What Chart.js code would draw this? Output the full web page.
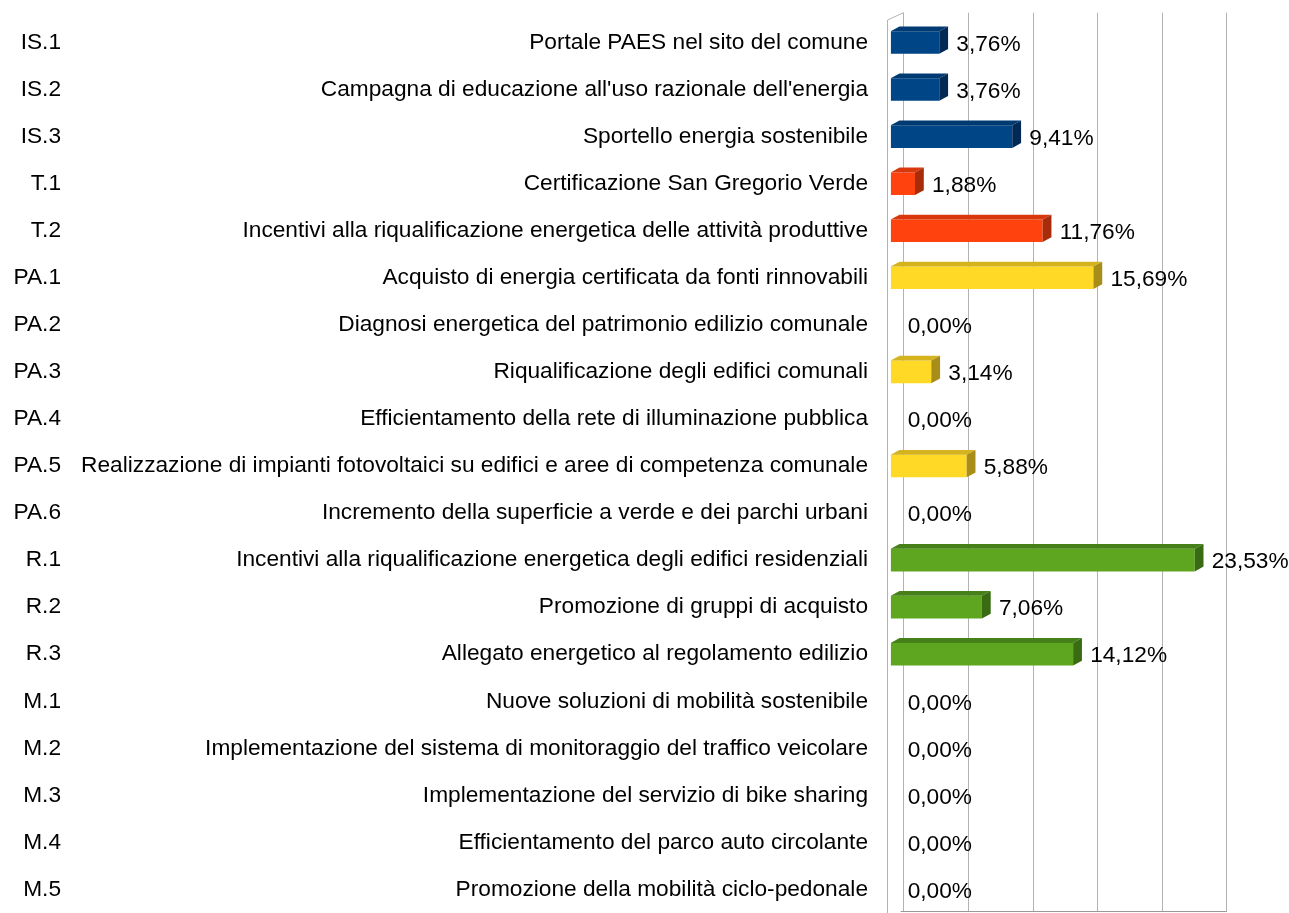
<!DOCTYPE html>
<html>
<head>
<meta charset="utf-8">
<script src="https://cdn.jsdelivr.net/npm/chart.js@4/dist/chart.umd.min.js"></script>
<style>
  html, body { margin: 0; padding: 0; background: #ffffff; }
  #wrap { width: 1289px; height: 913px; }
</style>
</head>
<body>
<div id="wrap"><canvas id="c" width="1289" height="913"></canvas></div>
<script>
// ---- data ----
const codes = ['IS.1','IS.2','IS.3','T.1','T.2','PA.1','PA.2','PA.3','PA.4','PA.5','PA.6','R.1','R.2','R.3','M.1','M.2','M.3','M.4','M.5'];
const descriptions = [
  'Portale PAES nel sito del comune',
  "Campagna di educazione all'uso razionale dell'energia",
  'Sportello energia sostenibile',
  'Certificazione San Gregorio Verde',
  'Incentivi alla riqualificazione energetica delle attività produttive',
  'Acquisto di energia certificata da fonti rinnovabili',
  'Diagnosi energetica del patrimonio edilizio comunale',
  'Riqualificazione degli edifici comunali',
  'Efficientamento della rete di illuminazione pubblica',
  'Realizzazione di impianti fotovoltaici su edifici e aree di competenza comunale',
  'Incremento della superficie a verde e dei parchi urbani',
  'Incentivi alla riqualificazione energetica degli edifici residenziali',
  'Promozione di gruppi di acquisto',
  'Allegato energetico al regolamento edilizio',
  'Nuove soluzioni di mobilità sostenibile',
  'Implementazione del sistema di monitoraggio del traffico veicolare',
  'Implementazione del servizio di bike sharing',
  'Efficientamento del parco auto circolante',
  'Promozione della mobilità ciclo-pedonale'
];
const groups = ['IS','IS','IS','T','T','PA','PA','PA','PA','PA','PA','R','R','R','M','M','M','M','M'];
const values = [3.76, 3.76, 9.41, 1.88, 11.76, 15.69, 0, 3.14, 0, 5.88, 0, 23.53, 7.06, 14.12, 0, 0, 0, 0, 0];
const gridTicks = [0, 5, 10, 15, 20, 25];

// ---- styles ----
const groupColors = {
  IS: { front: '#004586', top: '#003a72', side: '#002a55' },
  T:  { front: '#ff420e', top: '#d9380c', side: '#a82c09' },
  PA: { front: '#ffd926', top: '#d4b31f', side: '#a88d18' },
  R:  { front: '#5ea61f', top: '#468019', side: '#396b12' },
  M:  { front: '#7e0021', top: '#6a001c', side: '#500015' }
};
const FONT = 'Liberation Sans, Arial, sans-serif';
const FSIZE = 22.7;

function fmt(v) { return v.toFixed(2).replace('.', ',') + '%'; }

const threeD = {
  id: 'threeD',
  beforeDatasetsDraw(chart) {
    const ctx = chart.ctx;
    const xs = chart.scales.x;
    const area = chart.chartArea;
    const wallDx = 12.6, wallTop = area.top - 6.3, floorY = 911.5;
    ctx.save();
    ctx.strokeStyle = '#b3b3b3';
    ctx.lineWidth = 1;
    gridTicks.forEach(v => {
      const px = Math.round(xs.getPixelForValue(v) + wallDx) + 0.5;
      ctx.beginPath();
      ctx.moveTo(px, wallTop);
      ctx.lineTo(px, floorY);
      ctx.stroke();
    });
    const x0 = xs.getPixelForValue(0);
    const fl = Math.round(x0 - 4) + 0.5;
    ctx.beginPath();
    ctx.moveTo(fl, chart.height);
    ctx.lineTo(fl, area.top + 1);
    ctx.lineTo(Math.round(x0 + wallDx) + 0.5, wallTop);
    ctx.stroke();
    ctx.strokeStyle = '#999999';
    ctx.beginPath();
    ctx.moveTo(x0 + 10, floorY);
    ctx.lineTo(xs.getPixelForValue(25) + wallDx + 0.5, floorY);
    ctx.stroke();
    ctx.restore();
  },
  afterDatasetsDraw(chart) {
    const ctx = chart.ctx;
    const meta = chart.getDatasetMeta(0);
    const dx = 8.8, dy = -4.8;
    ctx.save();
    meta.data.forEach((el, i) => {
      const p = el.getProps(['x', 'y', 'base', 'height'], true);
      const v = values[i];
      const col = groupColors[groups[i]];
      const top = p.y - p.height / 2, bot = p.y + p.height / 2;
      if (v > 0) {
        ctx.fillStyle = col.top;
        ctx.beginPath();
        ctx.moveTo(p.base, top);
        ctx.lineTo(p.base + dx, top + dy);
        ctx.lineTo(p.x + dx, top + dy);
        ctx.lineTo(p.x, top);
        ctx.closePath();
        ctx.fill();
        ctx.fillStyle = col.side;
        ctx.beginPath();
        ctx.moveTo(p.x, top);
        ctx.lineTo(p.x + dx, top + dy);
        ctx.lineTo(p.x + dx, bot + dy);
        ctx.lineTo(p.x, bot);
        ctx.closePath();
        ctx.fill();
      }
      ctx.fillStyle = '#000000';
      ctx.font = FSIZE + 'px ' + FONT;
      ctx.textAlign = 'left';
      ctx.textBaseline = 'middle';
      ctx.fillText(fmt(v), p.x + 17, p.y + 2);
    });
    ctx.restore();
  }
};

Chart.defaults.font.family = FONT;
Chart.defaults.font.size = FSIZE;
Chart.defaults.color = '#000000';

function fixY(width) {
  return function (s) { s.width = width; s.paddingTop = 0; s.paddingBottom = 0; };
}

new Chart(document.getElementById('c'), {
  type: 'bar',
  data: {
    labels: descriptions,
    datasets: [{
      data: values,
      backgroundColor: groups.map(g => groupColors[g].front),
      borderWidth: 0,
      barPercentage: 0.48,
      categoryPercentage: 1.0
    }]
  },
  options: {
    indexAxis: 'y',
    responsive: false,
    animation: false,
    devicePixelRatio: 1,
    layout: { padding: { left: 0, right: 75.3, top: 19, bottom: 0 } },
    plugins: { legend: { display: false }, tooltip: { enabled: false } },
    scales: {
      x: {
        type: 'linear', min: 0, max: 25, display: false,
        grid: { display: false }
      },
      y: {
        type: 'category', position: 'left', weight: 0,
        grid: { display: false, drawTicks: false },
        border: { display: false },
        ticks: { autoSkip: false, padding: 22.7, color: '#000' },
        afterFit: fixY(820.7)
      },
      yc: {
        type: 'category', position: 'left', weight: 10, offset: true,
        labels: codes,
        grid: { display: false, drawTicks: false },
        border: { display: false },
        ticks: { autoSkip: false, padding: 9, color: '#000' },
        afterFit: fixY(70)
      }
    }
  },
  plugins: [threeD]
});
</script>
</body>
</html>
